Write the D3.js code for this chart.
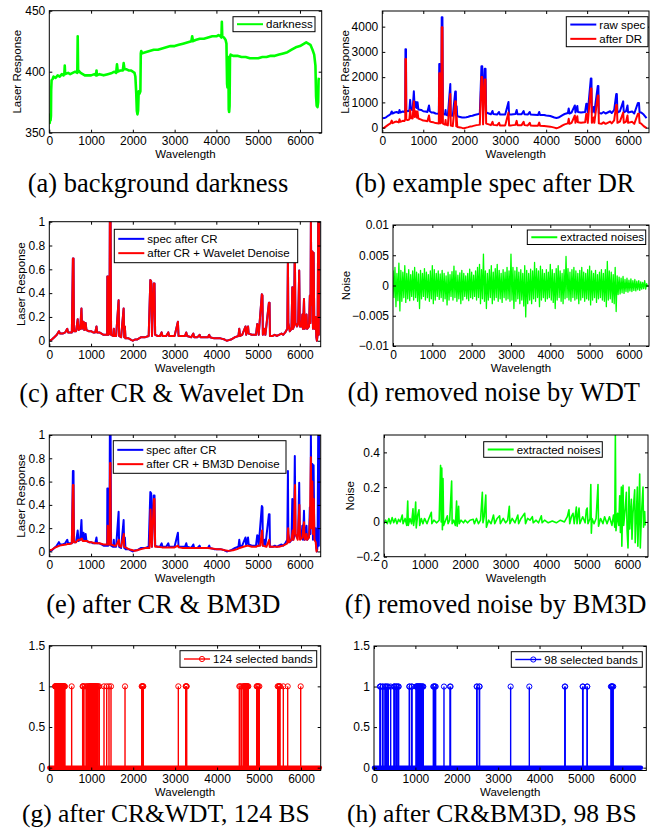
<!DOCTYPE html>
<html lang="en">
<head>
<meta charset="UTF-8">
<title>Spectra, denoising and band selection</title>
<script src="https://cdn.jsdelivr.net/npm/d3@7"></script>
<style>
  body { margin: 0; background: #fff; }
  svg text { font-family: "Liberation Sans", Arial, sans-serif; }
</style>
</head>
<body>
<script>
// ---- data (wavelength index, value) ----
const wlTicks = [0, 1000, 2000, 3000, 4000, 5000, 6000]

const darkness = [[0,362],[10,358],[20,365],[30,360],[40,364],[45,385],[55,393],[80,394],[100,396],[150,395],[200,397],[250,396],[300,398],[340,397],[360,398],[370,405],[380,398],[450,399],[500,398],[560,399],[620,400],[670,399],[680,429],[690,400],[700,401],[750,399],[800,398],[850,397],[900,397],[1000,397],[1080,398],[1120,397],[1130,401],[1140,397],[1200,398],[1300,397],[1400,398],[1500,399],[1560,400],[1600,399],[1620,406],[1640,400],[1700,401],[1760,401],[1780,407],[1800,402],[1850,402],[1900,401],[1950,401],[2000,400],[2040,399],[2060,396],[2080,383],[2095,368],[2110,365],[2125,368],[2140,384],[2160,382],[2180,384],[2190,415],[2200,417],[2220,415],[2300,416],[2400,417],[2500,418],[2600,418],[2700,419],[2800,420],[2900,421],[3000,421],[3100,422],[3200,423],[3300,424],[3400,425],[3420,429],[3440,425],[3500,426],[3600,427],[3700,427],[3800,428],[3900,429],[4000,429],[4050,430],[4100,429],[4120,428],[4130,441],[4140,429],[4180,428],[4220,426],[4240,423],[4255,390],[4265,387],[4275,410],[4285,412],[4295,369],[4305,367],[4315,372],[4325,412],[4340,414],[4400,413],[4500,413],[4600,412],[4700,412],[4800,411],[4900,411],[5000,411],[5100,412],[5200,412],[5300,413],[5400,413],[5500,414],[5600,415],[5700,416],[5800,418],[5900,420],[6000,421],[6100,423],[6150,424],[6200,423],[6250,422],[6300,418],[6340,414],[6370,405],[6385,380],[6400,372],[6420,371],[6435,375],[6445,393],[6455,395]]

const rawSpec = [[0,370],[50,380],[100,420],[150,480],[200,530],[230,640],[250,560],[300,600],[350,620],[400,580],[420,700],[440,600],[500,640],[540,620],[560,700],[565,3110],[578,3110],[585,680],[620,650],[660,680],[680,1100],[700,720],[740,700],[770,1440],[790,800],[820,1020],[840,780],[860,1010],[880,720],[950,700],[1000,650],[1050,640],[1100,620],[1140,880],[1160,650],[1200,600],[1250,600],[1300,560],[1380,550],[1390,2520],[1408,2520],[1420,560],[1440,600],[1450,4370],[1468,4370],[1480,560],[1530,520],[1545,700],[1555,520],[1600,480],[1660,1730],[1672,480],[1720,470],[1780,1430],[1795,1430],[1805,480],[1815,850],[1830,450],[1900,420],[1950,400],[2000,400],[2050,410],[2100,430],[2150,460],[2200,470],[2250,500],[2300,520],[2350,540],[2380,560],[2420,2430],[2440,2430],[2460,560],[2500,2330],[2520,2330],[2535,600],[2600,560],[2650,530],[2690,660],[2710,540],[2800,520],[2850,620],[2870,520],[2950,520],[3000,520],[3080,1020],[3095,520],[3150,520],[3250,540],[3280,700],[3300,530],[3400,530],[3450,660],[3470,530],[3550,520],[3600,620],[3620,520],[3700,510],[3800,500],[3830,620],[3850,500],[3950,500],[4000,480],[4100,460],[4200,400],[4250,380],[4300,400],[4350,450],[4400,500],[4450,540],[4530,580],[4550,760],[4570,560],[4620,600],[4700,880],[4715,600],[4760,860],[4775,620],[4850,600],[4950,620],[4980,950],[5000,930],[5015,600],[5090,1950],[5105,1950],[5115,600],[5160,820],[5175,600],[5260,1650],[5275,1650],[5285,580],[5350,560],[5400,620],[5450,560],[5500,600],[5560,650],[5600,580],[5660,700],[5710,1330],[5725,1330],[5740,600],[5800,650],[5880,1040],[5895,600],[5950,650],[5985,880],[6000,600],[6100,640],[6150,560],[6240,980],[6265,980],[6280,600],[6320,600],[6380,520],[6450,380]]

const afterDR = [[0,-20],[50,0],[100,60],[150,120],[200,170],[230,280],[250,180],[300,220],[350,240],[400,210],[420,330],[440,230],[500,270],[540,260],[560,330],[565,2720],[578,2720],[585,320],[620,300],[660,330],[680,700],[700,380],[740,360],[770,1050],[790,420],[820,650],[840,400],[860,640],[880,360],[950,320],[1000,280],[1050,270],[1100,250],[1140,480],[1160,250],[1200,220],[1250,210],[1300,180],[1380,160],[1390,2150],[1408,2150],[1420,170],[1440,200],[1450,3980],[1468,3980],[1480,160],[1530,120],[1545,300],[1555,120],[1600,90],[1660,1330],[1672,80],[1720,60],[1780,1050],[1795,1050],[1805,60],[1815,420],[1830,30],[1900,10],[1950,-10],[2000,-20],[2050,0],[2100,20],[2150,50],[2200,60],[2250,80],[2300,100],[2350,110],[2380,120],[2420,2010],[2440,2010],[2460,130],[2500,1910],[2520,1910],[2535,160],[2600,130],[2650,100],[2690,230],[2710,110],[2800,90],[2850,190],[2870,90],[2950,90],[3000,90],[3080,600],[3095,90],[3150,90],[3250,110],[3280,270],[3300,100],[3400,100],[3450,230],[3470,100],[3550,90],[3600,190],[3620,90],[3700,80],[3800,80],[3830,200],[3850,80],[3950,70],[4000,60],[4100,40],[4200,0],[4250,-20],[4300,0],[4350,40],[4400,90],[4450,130],[4530,170],[4550,350],[4570,150],[4620,190],[4700,480],[4715,190],[4760,450],[4775,210],[4850,190],[4950,210],[4980,550],[5000,530],[5015,190],[5090,1550],[5105,1550],[5115,190],[5160,400],[5175,190],[5260,1270],[5275,1270],[5285,170],[5350,150],[5400,210],[5450,150],[5500,190],[5560,240],[5600,170],[5660,290],[5710,900],[5725,900],[5740,190],[5800,240],[5880,600],[5895,190],[5950,240],[5985,480],[6000,190],[6100,230],[6150,150],[6240,550],[6265,550],[6280,190],[6320,160],[6380,60],[6450,-20]]

// spectrum after cosmic-ray removal (wavelet output overlaps it at this scale)
const crSpec = [[0,0.0],[60,0.01],[120,0.03],[180,0.05],[230,0.08],[260,0.06],[320,0.06],[380,0.07],[430,0.1],[450,0.07],[500,0.07],[540,0.07],[565,0.69],[580,0.69],[590,0.08],[640,0.08],[680,0.18],[700,0.09],[740,0.1],[770,0.27],[785,0.1],[820,0.16],[840,0.09],[870,0.15],[890,0.09],[950,0.08],[1000,0.08],[1050,0.07],[1100,0.07],[1130,0.12],[1145,0.07],[1200,0.07],[1250,0.06],[1300,0.05],[1385,0.05],[1390,0.54],[1405,0.54],[1415,0.05],[1440,0.06],[1450,1.0],[1468,1.0],[1480,0.05],[1530,0.04],[1545,0.1],[1555,0.04],[1600,0.04],[1660,0.34],[1672,0.04],[1720,0.03],[1780,0.27],[1795,0.03],[1810,0.12],[1825,0.02],[1900,0.02],[1950,0.01],[2000,0.0],[2050,0.01],[2100,0.01],[2150,0.02],[2200,0.03],[2250,0.03],[2300,0.03],[2380,0.04],[2420,0.51],[2440,0.5],[2460,0.04],[2500,0.48],[2520,0.48],[2535,0.05],[2600,0.04],[2650,0.04],[2690,0.07],[2710,0.04],[2800,0.04],[2850,0.07],[2870,0.04],[2950,0.04],[3000,0.04],[3080,0.16],[3095,0.04],[3150,0.04],[3250,0.04],[3280,0.07],[3300,0.04],[3400,0.03],[3450,0.06],[3470,0.03],[3550,0.03],[3600,0.05],[3620,0.03],[3700,0.03],[3800,0.03],[3830,0.05],[3850,0.03],[3950,0.02],[4000,0.02],[4100,0.02],[4200,0.01],[4250,0.0],[4300,0.005],[4350,0.01],[4400,0.02],[4450,0.03],[4530,0.04],[4550,0.1],[4570,0.04],[4620,0.05],[4700,0.12],[4715,0.05],[4760,0.12],[4775,0.06],[4850,0.05],[4950,0.05],[4980,0.14],[5000,0.13],[5015,0.05],[5090,0.39],[5105,0.38],[5115,0.05],[5160,0.1],[5175,0.05],[5260,0.32],[5275,0.32],[5285,0.04],[5350,0.04],[5400,0.05],[5450,0.04],[5500,0.05],[5560,0.06],[5600,0.05],[5650,0.07],[5700,0.1],[5715,0.69],[5725,0.15],[5760,0.08],[5800,0.1],[5820,0.45],[5835,0.1],[5860,0.12],[5880,0.82],[5895,0.15],[5930,0.12],[5960,0.15],[5985,0.59],[6000,0.12],[6040,0.12],[6060,0.22],[6075,0.1],[6100,0.35],[6115,0.1],[6140,0.12],[6160,0.22],[6175,0.1],[6220,0.12],[6240,0.38],[6255,0.15],[6265,1.0],[6280,0.3],[6300,0.75],[6315,0.1],[6330,0.74],[6345,0.2],[6360,0.1],[6380,0.2],[6395,0.03],[6410,0.0],[6425,0.05],[6440,1.0],[6455,0.05],[6465,1.0],[6480,1.0]]

const bm3dSpec = [[0,0.01],[60,0.015],[120,0.03],[180,0.04],[250,0.05],[320,0.055],[400,0.06],[450,0.065],[500,0.065],[540,0.07],[565,0.57],[578,0.57],[590,0.08],[640,0.08],[690,0.1],[740,0.1],[780,0.11],[800,0.09],[850,0.09],[900,0.09],[950,0.08],[1000,0.08],[1050,0.075],[1100,0.07],[1200,0.07],[1300,0.06],[1390,0.06],[1398,0.22],[1405,0.06],[1445,0.06],[1455,0.76],[1465,0.76],[1475,0.06],[1550,0.05],[1600,0.05],[1665,0.1],[1675,0.05],[1720,0.04],[1785,0.15],[1795,0.04],[1850,0.03],[1900,0.02],[2000,0.01],[2050,0.005],[2100,0.01],[2200,0.02],[2300,0.03],[2400,0.03],[2425,0.36],[2440,0.2],[2455,0.04],[2505,0.45],[2520,0.45],[2535,0.04],[2600,0.04],[2700,0.035],[2800,0.035],[2900,0.035],[3000,0.035],[3080,0.05],[3100,0.035],[3200,0.03],[3300,0.03],[3400,0.03],[3500,0.03],[3600,0.03],[3700,0.03],[3800,0.03],[3900,0.025],[4000,0.02],[4100,0.02],[4200,0.01],[4300,0.005],[4400,0.01],[4500,0.02],[4560,0.03],[4650,0.04],[4750,0.05],[4850,0.04],[4950,0.04],[5000,0.05],[5050,0.05],[5095,0.18],[5110,0.05],[5200,0.04],[5265,0.1],[5280,0.04],[5400,0.04],[5500,0.04],[5600,0.05],[5700,0.07],[5720,0.2],[5740,0.08],[5800,0.1],[5830,0.18],[5850,0.1],[5885,0.57],[5900,0.15],[5950,0.1],[5990,0.4],[6005,0.1],[6060,0.12],[6100,0.25],[6115,0.1],[6160,0.15],[6175,0.1],[6220,0.12],[6245,0.3],[6265,0.81],[6280,0.2],[6300,0.6],[6315,0.15],[6335,0.45],[6350,0.1],[6380,0.08],[6400,0.0],[6420,0.02]]

// wavelet noise envelope, x10^-3, one hi/lo pair every 50 bands
const noiseHi = [2.5,3.0,2.0,3.7,2.5,2.2,3.3,2.0,2.6,1.8,2.4,3.0,2.2,1.9,2.5,2.0,2.8,2.2,1.8,2.4,3.3,2.6,2.0,2.4,1.9,2.5,2.0,1.6,2.2,1.8,2.3,3.2,2.4,1.7,2.1,2.5,2.0,1.6,2.0,2.7,2.2,1.7,2.4,3.0,3.5,2.6,5.2,2.4,2.0,2.6,3.3,2.2,2.8,3.5,2.5,2.0,2.6,2.2,3.0,2.4,5.2,3.0,2.4,3.0,2.2,2.6,2.0,3.3,2.5,2.0,2.7,2.4,3.8,2.8,2.4,3.2,2.6,2.0,2.6,2.2,3.5,2.6,2.0,2.8,3.3,2.4,2.0,2.6,4.8,2.8,2.2,2.6,3.0,2.4,2.0,2.5,3.0,2.2,2.0,2.6,3.2,2.4,2.0,2.5,1.8,2.2,2.6,2.0,2.6,4.0,2.4,2.2,1.8,3.0,1.6,1.4,1.2,1.5,1.0,1.2,0.9,1.1,0.8,1.0,0.7,0.8,0.6,0.5,0.8,0.3]
const noiseLo = [-2.0,-3.5,-2.5,-4.2,-2.6,-2.0,-2.8,-2.2,-2.5,-1.8,-2.4,-2.0,-2.6,-3.8,-2.2,-1.8,-2.4,-2.0,-2.6,-2.2,-3.0,-2.4,-1.8,-2.3,-2.0,-2.6,-2.2,-3.2,-2.4,-1.8,-2.4,-2.0,-2.6,-2.2,-3.0,-2.4,-1.8,-2.2,-2.5,-2.0,-2.2,-1.8,-2.4,-2.0,-3.0,-2.2,-2.6,-3.8,-2.4,-2.0,-3.0,-2.4,-2.0,-2.6,-2.2,-2.8,-2.0,-2.4,-2.2,-2.6,-2.4,-3.8,-2.6,-2.2,-3.0,-2.4,-3.4,-5.2,-3.0,-2.4,-3.0,-2.2,-2.6,-2.0,-3.5,-2.4,-2.0,-2.6,-2.2,-2.0,-2.4,-2.8,-3.8,-2.4,-2.0,-2.6,-3.0,-2.2,-2.0,-2.4,-2.6,-2.0,-2.4,-2.2,-3.0,-2.4,-2.0,-2.6,-2.2,-2.4,-3.2,-2.4,-2.0,-2.8,-2.2,-2.0,-2.4,-2.6,-3.5,-2.4,-2.2,-2.8,-3.0,-4.3,-1.5,-1.4,-1.2,-1.3,-1.0,-1.1,-0.9,-1.0,-0.8,-0.9,-0.7,-0.8,-0.6,-0.5,-0.6,-0.2]

const bm3dNoise = [[0,-0.01],[40,0.01],[80,-0.01],[120,0.02],[160,-0.01],[200,0.025],[240,-0.005],[280,0.02],[320,-0.01],[360,0.015],[400,0.0],[450,0.04],[470,-0.01],[520,0.02],[560,-0.02],[585,0.12],[600,-0.02],[640,0.02],[680,-0.01],[715,0.075],[730,-0.02],[760,0.03],[781,0.115],[795,-0.035],[830,0.04],[863,0.07],[880,-0.02],[920,0.02],[960,-0.01],[1000,0.02],[1060,-0.01],[1100,0.015],[1167,0.055],[1180,-0.01],[1230,0.01],[1300,-0.005],[1360,0.01],[1395,0.325],[1410,0.0],[1425,0.31],[1440,-0.045],[1455,0.25],[1470,-0.02],[1520,0.01],[1562,0.035],[1580,-0.01],[1620,0.01],[1668,0.235],[1680,-0.01],[1720,0.01],[1760,-0.02],[1790,0.12],[1805,-0.025],[1840,0.09],[1855,-0.01],[1900,0.01],[1960,-0.005],[2000,0.01],[2060,-0.005],[2120,0.01],[2200,0.015],[2230,-0.01],[2280,0.02],[2330,-0.01],[2380,0.01],[2425,0.17],[2440,-0.005],[2470,0.03],[2510,0.155],[2525,-0.03],[2580,0.01],[2640,-0.01],[2700,0.04],[2730,-0.01],[2790,0.02],[2850,0.035],[2870,-0.01],[2940,0.02],[3000,-0.005],[3050,0.01],[3090,0.09],[3105,-0.01],[3160,0.02],[3230,-0.005],[3300,0.04],[3320,-0.01],[3380,0.02],[3469,0.05],[3490,-0.01],[3540,0.02],[3600,0.01],[3658,0.03],[3680,-0.005],[3750,0.01],[3810,-0.005],[3880,0.035],[3900,-0.005],[3960,0.01],[4050,-0.005],[4150,0.005],[4250,-0.005],[4350,0.01],[4450,0.0],[4520,0.03],[4562,0.07],[4580,-0.01],[4620,0.03],[4661,0.05],[4690,-0.01],[4743,0.085],[4760,-0.01],[4809,0.08],[4830,-0.01],[4900,0.03],[4960,-0.005],[4990,0.07],[5010,0.08],[5030,-0.01],[5080,0.02],[5100,0.215],[5113,-0.065],[5130,0.02],[5180,-0.01],[5230,0.02],[5277,0.215],[5290,-0.025],[5340,0.02],[5400,-0.01],[5440,0.03],[5500,-0.01],[5560,0.03],[5620,-0.02],[5660,0.04],[5690,-0.03],[5705,0.5],[5720,-0.05],[5760,0.05],[5790,-0.02],[5812,0.15],[5830,-0.06],[5853,0.2],[5865,-0.14],[5894,0.21],[5910,-0.02],[5950,0.08],[5976,0.17],[5995,-0.05],[6017,-0.15],[6030,0.0],[6042,0.2],[6060,-0.04],[6100,0.13],[6115,-0.1],[6140,0.05],[6182,0.185],[6195,-0.12],[6220,0.02],[6247,0.2],[6260,-0.14],[6290,0.1],[6305,0.275],[6320,-0.15],[6350,0.05],[6387,0.2],[6400,-0.03],[6428,0.06],[6440,-0.02]]

// selected band indices
const wdtBands = [136,145,152,160,168,175,183,190,198,205,213,220,228,236,244,252,260,268,276,284,292,300,310,320,330,340,352,362,372,533,795,803,812,851,891,905,935,950,965,975,985,995,1005,1015,1025,1035,1045,1055,1065,1075,1085,1095,1105,1120,1135,1150,1165,1192,1304,1368,1423,1471,1805,2203,2212,2225,2232,2241,3076,3252,3260,3268,3275,4530,4545,4580,4620,4635,4650,4660,4670,4680,4690,4700,4710,4720,4730,4744,4944,4955,4965,4985,5007,5445,5460,5475,5490,5500,5579,5683,5993]
const bm3dBands = [145,150,160,210,215,266,272,300,320,346,403,483,490,500,532,540,560,588,596,853,860,911,918,1015,1025,1035,1045,1055,1065,1075,1085,1095,1105,1115,1125,1135,1150,1165,1180,1191,1433,1445,1460,1475,1490,1691,1836,1850,2481,2490,2545,2552,3302,3753,4610,4620,5042,5050,5150,5153,5726,5735,5745,5755,5765,5781]

const spectrumTicks = [0, 0.2, 0.4, 0.6, 0.8, 1]
const spectrumLabels = ["0", "0.2", "0.4", "0.6", "0.8", "1"]
const wdtNoiseTicks = [-10, -5, 0, 5, 10]
const wdtNoiseLabels = ["\u22120.01", "\u22120.005", "0", "0.005", "0.01"]
const bmNoiseTicks = [-0.2, 0, 0.2, 0.4]
const bmNoiseLabels = ["\u22120.2", "0", "0.2", "0.4"]
const stemTicks = [0, 0.5, 1, 1.5]
const stemLabels = ["0", "0.5", "1", "1.5"]

const GREEN = "#00ff00", BLUE = "#0000ff", RED = "#ff0000"

const svg = d3.select("body").append("svg").attr("width", 667).attr("height", 838)

function lineSeries(data, color, width) {
    return (plot, x, y) => plot.append("path").datum(data)
        .attr("d", d3.line().x(d => x(d[0])).y(d => y(d[1])))
        .attr("fill", "none").attr("stroke", color)
        .attr("stroke-width", width).attr("stroke-linejoin", "round")
}

function noiseSeries(plot, x, y) {
    const pts = []
    noiseHi.forEach((v, i) => { pts.push([i * 50, v]); pts.push([i * 50 + 25, noiseLo[i]]) })
    lineSeries(pts, GREEN, 1.3)(plot, x, y)
}

function stemSeries(bands, color) {
    return (plot, x, y) => {
        plot.append("line").attr("x1", x(0)).attr("x2", x(6450)).attr("y1", y(0)).attr("y2", y(0))
            .attr("stroke", color).attr("stroke-width", 4.5).attr("stroke-linecap", "round")
        plot.selectAll(null).data(bands).enter().append("line")
            .attr("x1", d => x(d)).attr("x2", d => x(d)).attr("y1", y(0)).attr("y2", y(1))
            .attr("stroke", color).attr("stroke-width", 1.4)
        plot.selectAll(null).data(bands).enter().append("circle")
            .attr("cx", d => x(d)).attr("cy", y(1)).attr("r", 2.6)
            .attr("fill", "none").attr("stroke", color).attr("stroke-width", 1)
    }
}

function panel(p) {
    const [x0, y0, x1, y1] = p.box
    const x = d3.scaleLinear().domain(p.xDom).range([x0, x1])
    const y = d3.scaleLinear().domain(p.yDom).range([y1, y0])
    const g = svg.append("g")

    const plot = g.append("g")
    if (p.clip !== false) {
        g.append("clipPath").attr("id", "clip-" + p.id)
            .append("rect").attr("x", x0).attr("y", y0).attr("width", x1 - x0).attr("height", y1 - y0)
        plot.attr("clip-path", `url(#clip-${p.id})`)
    }
    p.series.forEach(s => s(plot, x, y))

    const style = a => a.attr("font-size", 12).attr("font-family", "'Liberation Sans', Arial, sans-serif")
        .call(a => a.select(".domain").remove())
    g.append("g").attr("transform", `translate(0,${y1})`)
        .call(d3.axisBottom(x).tickValues(wlTicks).tickFormat(d3.format("d")).tickSize(-3).tickPadding(4)).call(style)
    g.append("g").attr("transform", `translate(0,${y0})`)
        .call(d3.axisTop(x).tickValues(wlTicks).tickFormat("").tickSize(-3)).call(style)
    g.append("g").attr("transform", `translate(${x0},0)`)
        .call(d3.axisLeft(y).tickValues(p.yTicks).tickFormat((d, i) => p.yLabels[i]).tickSize(-3).tickPadding(4)).call(style)
    g.append("g").attr("transform", `translate(${x1},0)`)
        .call(d3.axisRight(y).tickValues(p.yTicks).tickFormat("").tickSize(-3)).call(style)
    g.append("rect").attr("x", x0).attr("y", y0).attr("width", x1 - x0).attr("height", y1 - y0)
        .attr("fill", "none").attr("stroke", "#000").attr("stroke-width", 1)

    g.append("text").attr("x", (x0 + x1) / 2).attr("y", y1 + 25.5).attr("text-anchor", "middle")
        .attr("font-size", 11.5).text("Wavelength")
    if (p.yTitle) {
        g.append("text").attr("transform", `translate(${p.yTitleX},${(y0 + y1) / 2}) rotate(-90)`)
            .attr("text-anchor", "middle").attr("dy", "0.35em").attr("font-size", 11.5).text(p.yTitle)
    }

    // legend
    const L = p.legend
    const lg = g.append("g")
    lg.append("rect").attr("x", L.x).attr("y", L.y).attr("width", L.w).attr("height", L.h)
        .attr("fill", "#fff").attr("stroke", "#000").attr("stroke-width", 1)
    const pad = (L.h - (L.rows.length - 1) * 14.3) / 2
    L.rows.forEach((r, i) => {
        const cy = L.y + pad + i * 14.3
        lg.append("line").attr("x1", L.x + 4).attr("x2", L.x + 30).attr("y1", cy).attr("y2", cy)
            .attr("stroke", r.color).attr("stroke-width", r.marker ? 1.4 : 2)
        if (r.marker) lg.append("circle").attr("cx", L.x + 22).attr("cy", cy).attr("r", 2.6)
            .attr("fill", "none").attr("stroke", r.color)
        lg.append("text").attr("x", L.x + 33).attr("y", cy).attr("dy", "0.35em")
            .attr("font-size", 11.5).text(r.label)
    })

    svg.append("text").attr("x", p.cap[0]).attr("y", p.cap[1]).attr("text-anchor", "middle")
        .style("font-family", "'Liberation Serif', 'Times New Roman', serif").attr("font-size", p.capSize || 26.5)
        .text(p.caption)
}

panel({ id: "a", box: [49.3, 10.7, 321.7, 132.7], xDom: [0, 6520], yDom: [350, 450],
    yTicks: [350, 400, 450], yLabels: ["350", "400", "450"], yTitle: "Laser Response", yTitleX: 17.3,
    series: [lineSeries(darkness, GREEN, 2.6)],
    legend: { x: 233, y: 16.7, w: 82, h: 15, rows: [{ label: "darkness", color: GREEN }] },
    caption: "(a) background darkness", cap: [158, 192] })

panel({ id: "b", box: [382.3, 11, 649, 132.7], xDom: [0, 6510], yDom: [-200, 4620],
    yTicks: [0, 1000, 2000, 3000, 4000], yLabels: ["0", "1000", "2000", "3000", "4000"],
    yTitle: "Laser Response", yTitleX: 344.7,
    series: [lineSeries(rawSpec, BLUE, 2), lineSeries(afterDR, RED, 2)],
    legend: { x: 566.3, y: 16.7, w: 81.7, h: 30, rows: [{ label: "raw spec", color: BLUE }, { label: "after DR", color: RED }] },
    caption: "(b) example spec after DR", cap: [494.7, 192] })

panel({ id: "c", box: [49.3, 221.7, 320.7, 346.7], xDom: [0, 6500], yDom: [-0.05, 1],
    yTicks: spectrumTicks, yLabels: spectrumLabels, yTitle: "Laser Response", yTitleX: 20.7,
    series: [lineSeries(crSpec, BLUE, 2), lineSeries(crSpec, RED, 2)],
    legend: { x: 114.3, y: 229.3, w: 183.4, h: 33.4, rows: [{ label: "spec after CR", color: BLUE }, { label: "after CR + Wavelet Denoise", color: RED }] },
    caption: "(c) after CR & Wavelet Dn", cap: [161.7, 401.5] })

panel({ id: "d", box: [393, 225, 649, 346], xDom: [0, 6510], yDom: [-10, 10],
    yTicks: wdtNoiseTicks, yLabels: wdtNoiseLabels, yTitle: "Noise", yTitleX: 345.7,
    series: [noiseSeries],
    legend: { x: 527.3, y: 230, w: 118.4, h: 14.5, rows: [{ label: "extracted noises", color: GREEN }] },
    caption: "(d) removed noise by WDT", cap: [493.8, 401] })

panel({ id: "e", box: [49.3, 435, 320.7, 556.7], xDom: [0, 6500], yDom: [-0.045, 1],
    yTicks: spectrumTicks, yLabels: spectrumLabels, yTitle: "Laser Response", yTitleX: 20.7,
    series: [lineSeries(crSpec, BLUE, 2), lineSeries(bm3dSpec, RED, 2)],
    legend: { x: 113.3, y: 440.7, w: 172.7, h: 32.6, rows: [{ label: "spec after CR", color: BLUE }, { label: "after CR + BM3D Denoise", color: RED }] },
    caption: "(e) after CR & BM3D", cap: [163.3, 612.7] })

panel({ id: "f", box: [384, 435, 648, 556.7], xDom: [0, 6510], yDom: [-0.2, 0.5],
    yTicks: bmNoiseTicks, yLabels: bmNoiseLabels, yTitle: "Noise", yTitleX: 350.3,
    series: [lineSeries(bm3dNoise, GREEN, 1.6)],
    legend: { x: 483.7, y: 441.7, w: 118.6, h: 15.6, rows: [{ label: "extracted noises", color: GREEN }] },
    caption: "(f) removed noise by BM3D", cap: [495.5, 613.3] })

panel({ id: "g", box: [49.3, 645.7, 320.7, 770.5], xDom: [0, 6470], yDom: [-0.035, 1.5], clip: false,
    yTicks: stemTicks, yLabels: stemLabels,
    series: [stemSeries(wdtBands, RED)],
    legend: { x: 180, y: 650.7, w: 136.7, h: 16.6, rows: [{ label: "124 selected bands", color: RED, marker: true }] },
    caption: "(g) after CR&WDT, 124 BS", cap: [165.8, 821.5], capSize: 25.5 })

panel({ id: "h", box: [374, 646, 646.3, 770.5], xDom: [0, 6580], yDom: [-0.035, 1.5], clip: false,
    yTicks: stemTicks, yLabels: stemLabels,
    series: [stemSeries(bm3dBands, BLUE)],
    legend: { x: 511.3, y: 651.7, w: 131, h: 15.6, rows: [{ label: "98 selected bands", color: BLUE, marker: true }] },
    caption: "(h) after CR&BM3D, 98 BS", cap: [491.8, 821.5], capSize: 25.5 })
</script>
</body>
</html>
